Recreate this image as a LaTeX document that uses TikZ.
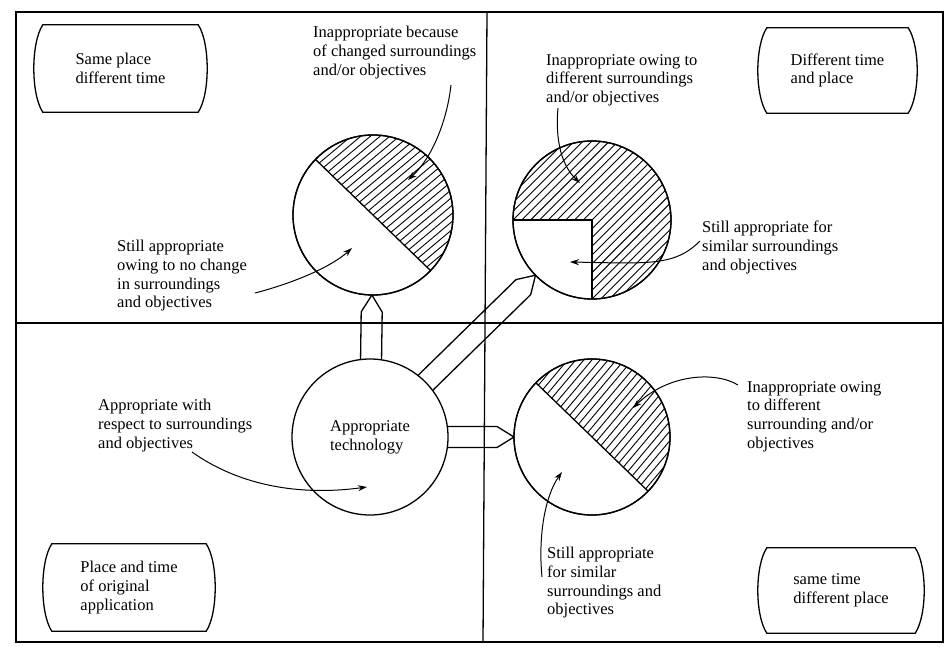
\documentclass[tikz,border=0pt]{standalone}
\usepackage{fontspec}
\setmainfont{Liberation Serif}
\usetikzlibrary{calc,arrows.meta,backgrounds}

% pointed bar from the centre of #1 to the rim of #2 (radius #3)
\newcommand\techpointer[3]{%
  \path ($(#2.center)!#3!(#1.center)$) coordinate (ptip)
        ($(ptip)!17pt!(#1.center)$) coordinate (pneck);
  \draw[rule] ($(#1.center)!10.5pt!90:(#2.center)$) -- ($(pneck)!10.5pt!-90:(#1.center)$)
    -- (ptip) -- ($(pneck)!10.5pt!90:(#1.center)$) -- ($(#1.center)!10.5pt!-90:(#2.center)$);}

% outline with flat top and bottom and bulging sides around node #1
\newcommand\capsule[1]{%
  \draw[rule] ([xshift=10pt]#1.north west) -- ([xshift=-10pt]#1.north east)
    .. controls ([xshift=2pt,yshift=-18pt]#1.north east) and ([xshift=2pt,yshift=18pt]#1.south east)
    .. ([xshift=-10pt]#1.south east) -- ([xshift=10pt]#1.south west)
    .. controls ([xshift=-2pt,yshift=18pt]#1.south west) and ([xshift=-2pt,yshift=-18pt]#1.north west)
    .. cycle;}

\begin{document}
\begin{tikzpicture}[x=1pt,y=1pt,
  rule/.style={line width=1.3pt},
  disc/.style={circle, draw, line width=1.3pt, fill=white, inner sep=0pt, minimum size=#1},
  hatchline/.style={line width=0.9pt},
  lead/.style={line width=1pt, -{Stealth[length=9pt,width=6pt]}},
  txt/.style={anchor=north west, align=left, inner sep=0pt, font=\fontsize{16.5}{18.7}\selectfont},
  boxed/.style={align=left, inner sep=0pt, font=\fontsize{16.5}{18.7}\selectfont}
]
\useasboundingbox (0,0) rectangle (944,646);

% circles
\node[disc=160pt] (tl) at (373,431) {};
\node[disc=158pt] (tr) at (592,426) {};
\node[disc=156pt, boxed] (c) at (370,209) {Appropriate\\technology};
\node[disc=156pt] (br) at (592,209) {};

\begin{scope}[on background layer]
  % frame and quadrant dividers
  \draw[rule] (16,4) rectangle (943,634);
  \draw[rule] (487,634) -- (483,4);
  \draw[rule] (16,323) -- (943,323);
  % pointers from the central circle
  \techpointer{c}{tl}{80pt}
  \techpointer{c}{tr}{79pt}
  \techpointer{c}{br}{78pt}
\end{scope}

% upper left: half hatched
\begin{scope}
  \clip (tl.center) ++(136:80) arc[start angle=136, end angle=-44, radius=80] -- cycle;
  \begin{scope}[shift={(tl.center)}, rotate=40]
    \foreach \k in {-15,...,15} \draw[hatchline] (-95,\k*6.2) -- (95,\k*6.2);
  \end{scope}
\end{scope}
\draw[rule] (tl.center) ++(136:80) -- ++(-44:160);

% upper right: three quarters hatched
\begin{scope}
  \clip (tr.center) -- ++(-90:79) arc[start angle=-90, end angle=180, radius=79] -- cycle;
  \begin{scope}[shift={(tr.center)}, rotate=45]
    \foreach \k in {-15,...,15} \draw[hatchline] (-95,\k*6.2) -- (95,\k*6.2);
  \end{scope}
\end{scope}
\draw[rule] (tr.center) ++(180:79) -- (tr.center) -- ++(-90:79);

% lower right: half hatched
\begin{scope}
  \clip (br.center) ++(136:78) arc[start angle=136, end angle=-44, radius=78] -- cycle;
  \begin{scope}[shift={(br.center)}, rotate=50]
    \foreach \k in {-15,...,15} \draw[hatchline] (-95,\k*6.2) -- (95,\k*6.2);
  \end{scope}
\end{scope}
\draw[rule] (br.center) ++(136:78) -- ++(-44:156);
\draw[line width=1.3pt] (tl) circle[radius=80];
\draw[line width=1.3pt] (tr) circle[radius=79];
\draw[line width=1.3pt] (br) circle[radius=78];

% corner captions
\node[boxed, minimum width=175pt, minimum height=87pt] (b1) at (120.5,577.5) {Same place\\different time};
\node[boxed, minimum width=161pt, minimum height=85pt] (b2) at (837.5,575.5) {Different time\\and place};
\node[boxed, minimum width=174pt, minimum height=87pt] (b3) at (129,58.5) {Place and time\\of original\\application};
\node[boxed, minimum width=168pt, minimum height=85pt] (b4) at (841,55.5) {same time\\different place};
\capsule{b1}\capsule{b2}\capsule{b3}\capsule{b4}

% explanatory labels
\node[txt] (t2) at (313,620) {Inappropriate because\\of changed surroundings\\and/or objectives};
\node[txt] (t3) at (117,406) {Still appropriate\\owing to no change\\in surroundings\\and objectives};
\node[txt] (t4) at (546,592) {Inappropriate owing to\\different surroundings\\and/or objectives};
\node[txt] (t6) at (702,425) {Still appropriate for\\similar surroundings\\and objectives};
\node[txt] (t7) at (98,247) {Appropriate with\\respect to surroundings\\and objectives};
\node[txt] (t10) at (747,265) {Inappropriate owing\\to different\\surrounding and/or\\objectives};
\node[txt] (t11) at (547,99) {Still appropriate\\for similar\\surroundings and\\objectives};

% leader arrows
\coordinate (a1s) at (451,561); \coordinate (a1e) at (408,466);
\coordinate (a2s) at (255,353); \coordinate (a2e) at (352,398);
\coordinate (a3s) at (558,538); \coordinate (a3e) at (580,463);
\coordinate (a4s) at (700,405); \coordinate (a4e) at (570,384);
\coordinate (a5s) at (192,194); \coordinate (a5e) at (367,159);
\coordinate (a6s) at (738,261); \coordinate (a6e) at (633,238);
\coordinate (a7s) at (542,69);  \coordinate (a7e) at (562,174);
\draw[lead] (a1s) .. controls (447,525) and (432,488) .. (a1e);
\draw[lead] (a2s) .. controls (290,362) and (330,378) .. (a2e);
\draw[lead] (a3s) .. controls (555,505) and (562,480) .. (a3e);
\draw[lead] (a4s) .. controls (680,385) and (660,383) .. (620,383) -- (a4e);
\draw[lead] (a5s) .. controls (240,160) and (300,150) .. (a5e);
\draw[lead] (a6s) .. controls (715,275) and (668,272) .. (a6e);
\draw[lead] (a7s) .. controls (538,110) and (545,150) .. (a7e);
\end{tikzpicture}
\end{document}
